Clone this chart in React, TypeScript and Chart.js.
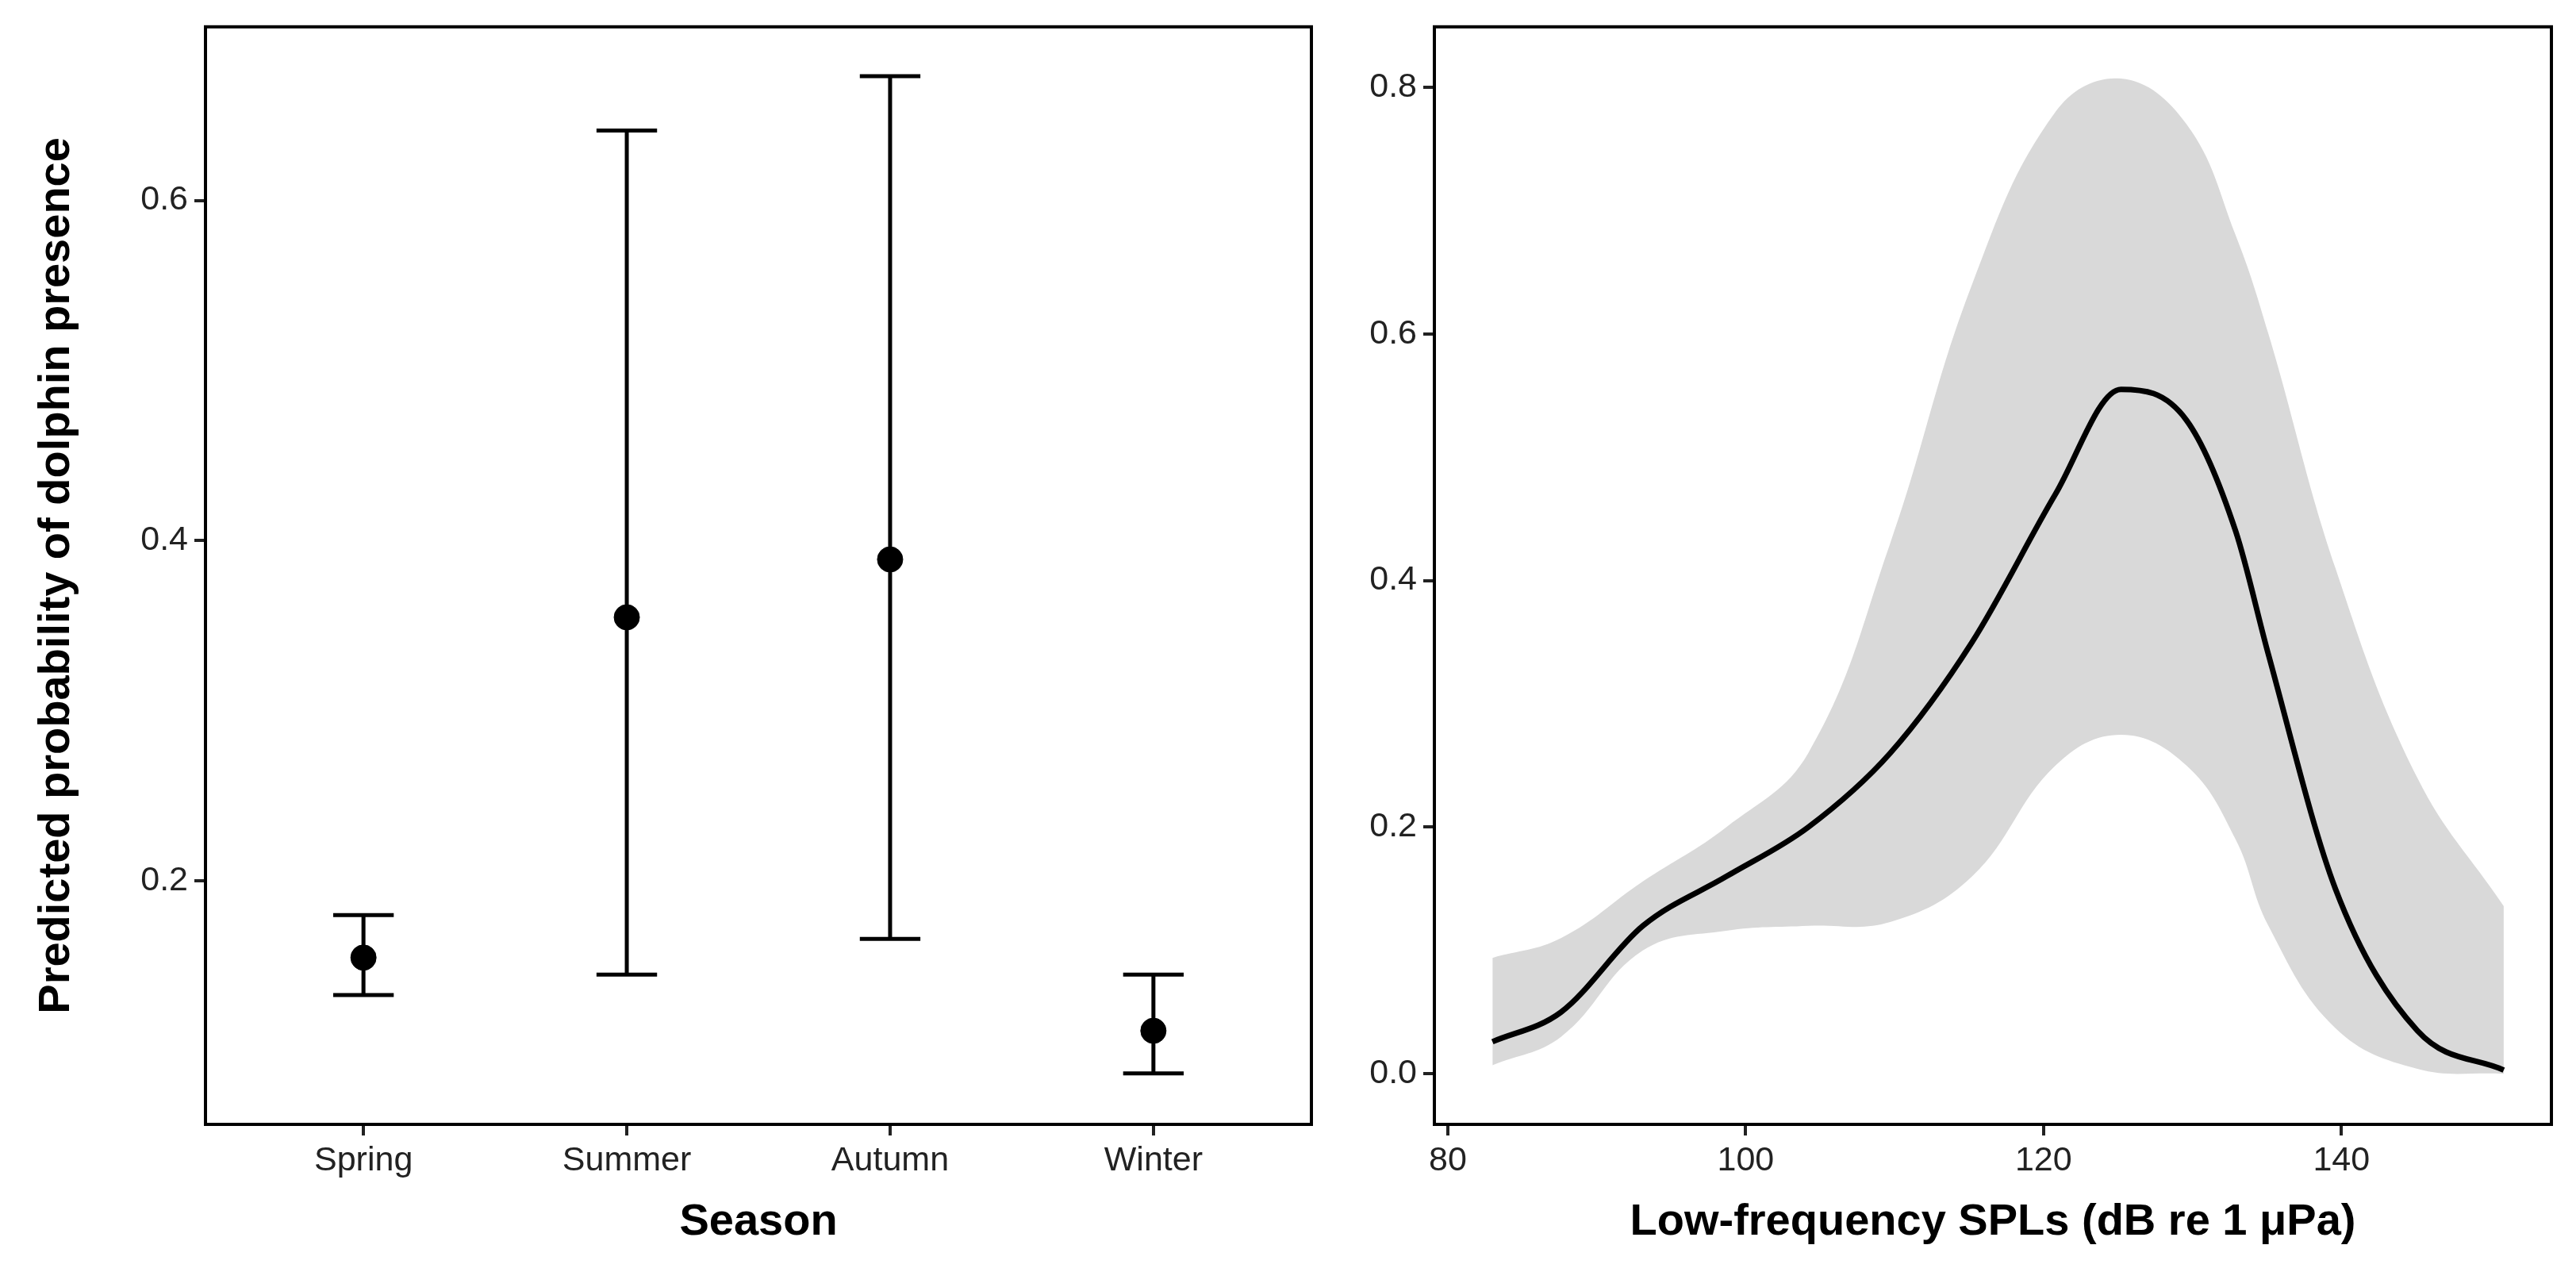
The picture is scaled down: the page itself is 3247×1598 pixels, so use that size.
import React, { useEffect, useRef } from "react";
import { Chart, registerables } from "chart.js";
Chart.register(...registerables);

const seasons = ["Spring", "Summer", "Autumn", "Winter"];
const seasonMean = [0.155, 0.355, 0.389, 0.112];
const seasonLow = [0.133, 0.145, 0.166, 0.087];
const seasonHigh = [0.18, 0.641, 0.673, 0.145];

const splX = [83, 87.6, 93.1, 98.7, 104.2, 109.7, 115.2, 120.8, 125.2, 129.6, 132.9, 135.1, 139.6, 145.1, 150.9];
const splMean = [0.026, 0.05, 0.12, 0.16, 0.2, 0.26, 0.35, 0.47, 0.555, 0.53, 0.44, 0.34, 0.15, 0.035, 0.003];
const splUpper = [0.094, 0.11, 0.156, 0.2, 0.26, 0.43, 0.64, 0.78, 0.807, 0.77, 0.68, 0.6, 0.41, 0.24, 0.136];
const splLower = [0.007, 0.03, 0.1, 0.116, 0.12, 0.123, 0.16, 0.25, 0.275, 0.25, 0.19, 0.12, 0.037, 0.004, 0.0];

const FONT = "'Liberation Sans', Arial, sans-serif";
const TICK = { family: FONT, size: 43 };
const TITLE = { family: FONT, size: 56, weight: "bold" as const };

const frame = {
  id: "frame",
  afterDatasetsDraw(chart: any) {
    const { ctx, chartArea: a } = chart;
    ctx.save();
    ctx.strokeStyle = "#000";
    ctx.lineWidth = 4;
    ctx.strokeRect(a.left, a.top, a.right - a.left, a.bottom - a.top);
    ctx.restore();
  },
};

const errBars = {
  id: "errBars",
  beforeDatasetsDraw(chart: any) {
    const { ctx, scales } = chart;
    const xs = scales.x, ys = scales.y;
    ctx.save();
    ctx.strokeStyle = "#000";
    ctx.lineWidth = 5;
    seasons.forEach((_, i) => {
      const px = xs.getPixelForValue(i + 1);
      const lo = ys.getPixelForValue(seasonLow[i]);
      const hi = ys.getPixelForValue(seasonHigh[i]);
      const w = xs.getPixelForValue(1.23) - xs.getPixelForValue(1);
      ctx.beginPath();
      ctx.moveTo(px, lo); ctx.lineTo(px, hi);
      ctx.moveTo(px - w / 2, lo); ctx.lineTo(px + w / 2, lo);
      ctx.moveTo(px - w / 2, hi); ctx.lineTo(px + w / 2, hi);
      ctx.stroke();
    });
    ctx.restore();
  },
};

function fixed(w: number) {
  return (s: any) => { s.width = w; };
}
function fixedH(h: number) {
  return (s: any) => { s.height = h; };
}

export default function App() {
  const r1 = useRef<HTMLCanvasElement>(null);
  const r2 = useRef<HTMLCanvasElement>(null);
  useEffect(() => {
    document.body.style.margin = "0";
    document.body.style.overflow = "hidden";
    const c1 = new Chart(r1.current!, {
      type: "scatter",
      data: {
        datasets: [{
          data: seasonMean.map((v, i) => ({ x: i + 1, y: v })),
          pointRadius: 16, pointBackgroundColor: "#000", pointBorderColor: "#000",
        }],
      },
      options: {
        animation: false, responsive: false, devicePixelRatio: 1,
        layout: { padding: { top: 21, right: 37, left: 34, bottom: 24 } },
        plugins: { legend: { display: false }, tooltip: { enabled: false } },
        scales: {
          x: {
            type: "linear", min: 0.4, max: 4.6,
            afterBuildTicks: (s: any) => { s.ticks = [1, 2, 3, 4].map((v) => ({ value: v })); },
            afterFit: fixedH(157),
            ticks: { color: "#222", font: TICK, padding: 6, callback: (v: any) => seasons[Number(v) - 1] },
            grid: { drawOnChartArea: false, color: "#222", tickLength: 14, lineWidth: 4 },
            border: { display: false },
            title: { display: true, text: "Season", color: "#000", font: TITLE, padding: { top: 0, bottom: 0 } },
          },
          y: {
            min: 0.057, max: 0.702,
            afterBuildTicks: (s: any) => { s.ticks = [0.2, 0.4, 0.6].map((v) => ({ value: v })); },
            afterFit: fixed(225),
            ticks: { color: "#222", font: TICK, padding: 8, callback: (v: any) => Number(v).toFixed(1) },
            grid: { drawOnChartArea: false, color: "#222", tickLength: 14, lineWidth: 4 },
            border: { display: false },
            title: { display: true, text: "Predicted probability of dolphin presence", color: "#000", font: TITLE, padding: { bottom: 20 } },
          },
        },
      },
      plugins: [errBars, frame],
    });
    const c2 = new Chart(r2.current!, {
      type: "line",
      data: {
        datasets: [
          { data: splMean.map((v, i) => ({ x: splX[i], y: v })), order: 0, borderWidth: 7, borderColor: "#000", pointRadius: 0, fill: false, cubicInterpolationMode: "monotone" },
          { data: splUpper.map((v, i) => ({ x: splX[i], y: v })), order: 1, borderWidth: 0, borderColor: "rgba(0,0,0,0)", pointRadius: 0, fill: "+1", backgroundColor: "#d9d9d9", tension: 0.4 },
          { data: splLower.map((v, i) => ({ x: splX[i], y: v })), order: 2, borderWidth: 0, borderColor: "rgba(0,0,0,0)", pointRadius: 0, fill: false, tension: 0.4 },
        ],
      },
      options: {
        animation: false, responsive: false, devicePixelRatio: 1,
        layout: { padding: { top: 21, right: 31, left: 0, bottom: 24 } },
        plugins: { legend: { display: false }, tooltip: { enabled: false }, filler: { propagate: false } },
        scales: {
          x: {
            type: "linear", min: 79.1, max: 154.1,
            afterBuildTicks: (s: any) => { s.ticks = [80, 100, 120, 140].map((v) => ({ value: v })); },
            afterFit: fixedH(157),
            ticks: { color: "#222", font: TICK, padding: 6 },
            grid: { drawOnChartArea: false, color: "#222", tickLength: 14, lineWidth: 4 },
            border: { display: false },
            title: { display: true, text: "Low-frequency SPLs (dB re 1 μPa)", color: "#000", font: TITLE, padding: { top: 0, bottom: 0 } },
          },
          y: {
            min: -0.041, max: 0.849,
            afterBuildTicks: (s: any) => { s.ticks = [0, 0.2, 0.4, 0.6, 0.8].map((v) => ({ value: v })); },
            afterFit: fixed(118),
            ticks: { color: "#222", font: TICK, padding: 8, callback: (v: any) => Number(v).toFixed(1) },
            grid: { drawOnChartArea: false, color: "#222", tickLength: 14, lineWidth: 4 },
            border: { display: false },
          },
        },
      },
      plugins: [frame],
    });
    return () => { c1.destroy(); c2.destroy(); };
  }, []);
  return (
    <div style={{ position: "fixed", left: 0, top: 0, width: 3247, height: 1598, background: "#fff" }}>
      <canvas ref={r1} width={1690} height={1598} style={{ position: "absolute", left: 0, top: 0 }} />
      <canvas ref={r2} width={1557} height={1598} style={{ position: "absolute", left: 1690, top: 0 }} />
    </div>
  );
}
